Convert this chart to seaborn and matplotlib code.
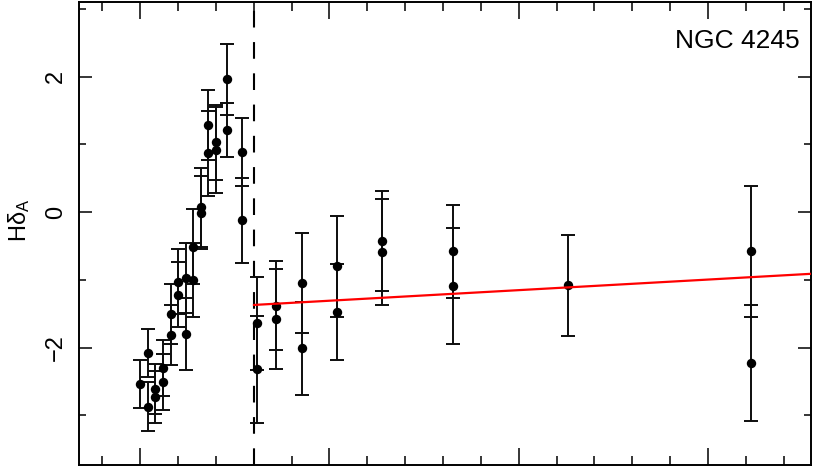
import matplotlib
matplotlib.use("Agg")
import matplotlib.pyplot as plt
import matplotlib.ticker as mticker
import pandas as pd
import seaborn as sns

# radius (arbitrary units, major ticks every 10), H-delta_A index and 1-sigma error
radius = [0.0, 0.4, 0.4, 0.8, 0.8, 1.2, 1.2, 1.6, 1.6, 2.0, 2.0, 2.4, 2.4,
          2.8, 2.8, 3.2, 3.2, 3.6, 3.6, 4.0, 4.0, 4.6, 4.6, 5.4, 5.4,
          6.19, 6.19, 7.18, 7.18, 8.55, 8.55, 10.39, 10.39, 12.78, 12.78,
          16.55, 16.55, 22.62, 32.30, 32.30]
hd_a = [-2.54, -2.08, -2.87, -2.61, -2.73, -2.30, -2.51, -1.50, -1.81, -1.03,
        -1.22, -0.97, -1.80, -0.51, -1.00, 0.07, -0.01, 1.29, 0.87, 1.03,
        0.92, 1.96, 1.21, 0.89, -0.12,
        -1.64, -2.32, -1.38, -1.58, -1.05, -2.01, -0.80, -1.47, -0.42, -0.59,
        -0.58, -1.09, -1.08, -0.58, -2.23]
hd_err = [0.35, 0.35, 0.36, 0.37, 0.38, 0.41, 0.41, 0.44, 0.44, 0.48,
          0.48, 0.52, 0.53, 0.55, 0.55, 0.59, 0.54, 0.52, 0.63, 0.55,
          0.63, 0.52, 0.40, 0.50, 0.63,
          0.69, 0.79, 0.66, 0.74, 0.74, 0.69, 0.75, 0.71, 0.74, 0.78,
          0.68, 0.86, 0.75, 0.97, 0.86]

break_r = 6.0                 # dashed separator
fit_r = [6.0, 35.45]          # linear fit beyond the break
fit_hd = [-1.37, -0.91]

galaxy = "NGC 4245"

df = pd.DataFrame({"r": radius, "hd": hd_a, "err": hd_err})

sns.set_theme(style="ticks")
plt.rcParams.update({
    "font.family": ["Liberation Sans", "DejaVu Sans"],
    "mathtext.fontset": "custom",
    "mathtext.rm": "Liberation Sans",
    "mathtext.it": "Liberation Sans:italic",
    "text.color": "black",
    "axes.labelcolor": "black",
    "ytick.labelcolor": "black",
})

fig = plt.figure(figsize=(8.17, 4.72), dpi=100)
ax = fig.add_axes([0.0971, 0.0148, 0.8956, 0.9809])

ax.errorbar(df["r"], df["hd"], yerr=df["err"], fmt="none", ecolor="#0d0d0d",
            elinewidth=1.4, capsize=5, capthick=1.4, zorder=2)
sns.scatterplot(data=df, x="r", y="hd", color="black", s=46, linewidth=0,
                ax=ax, zorder=3, legend=False)
sns.lineplot(x=fit_r, y=fit_hd, color="red", linewidth=1.6, ax=ax, zorder=4)
ax.axvline(break_r, color="black", linewidth=1.5, dashes=(8, 7), zorder=1)

ax.set_xlim(-3.22, 35.45)
ax.set_ylim(-3.734, 3.104)
ax.xaxis.set_major_locator(mticker.MultipleLocator(10))
ax.xaxis.set_minor_locator(mticker.MultipleLocator(2))
ax.yaxis.set_major_locator(mticker.MultipleLocator(2))
ax.yaxis.set_minor_locator(mticker.MultipleLocator(1))
ax.yaxis.set_major_formatter(mticker.FuncFormatter(
    lambda v, _: f"{v:.0f}".replace("-", "\u2212")))

ax.tick_params(which="both", direction="in", top=True, right=True,
               color="black", width=1.1, labelbottom=False)
ax.tick_params(axis="x", which="major", length=12)
ax.tick_params(axis="x", which="minor", length=6.5)
ax.tick_params(axis="y", which="major", length=9.5, labelsize=17, pad=9,
               labelcolor="black")
ax.tick_params(axis="y", which="minor", length=5)
for lab in ax.get_yticklabels():
    lab.set_rotation(90)
    lab.set_va("center")

for sp in ax.spines.values():
    sp.set_color("black")
    sp.set_linewidth(1.4)

ax.set_xlabel("")
ax.set_ylabel("H\u03b4$_{\\mathrm{A}}$", fontsize=17, color="black")
ax.yaxis.set_label_coords(-0.065, 0.529)

ax.text(0.985, 0.9006, galaxy, transform=ax.transAxes, ha="right",
        va="baseline", fontsize=19, color="black")

fig.savefig("out.png", dpi=100)
plt.close(fig)
